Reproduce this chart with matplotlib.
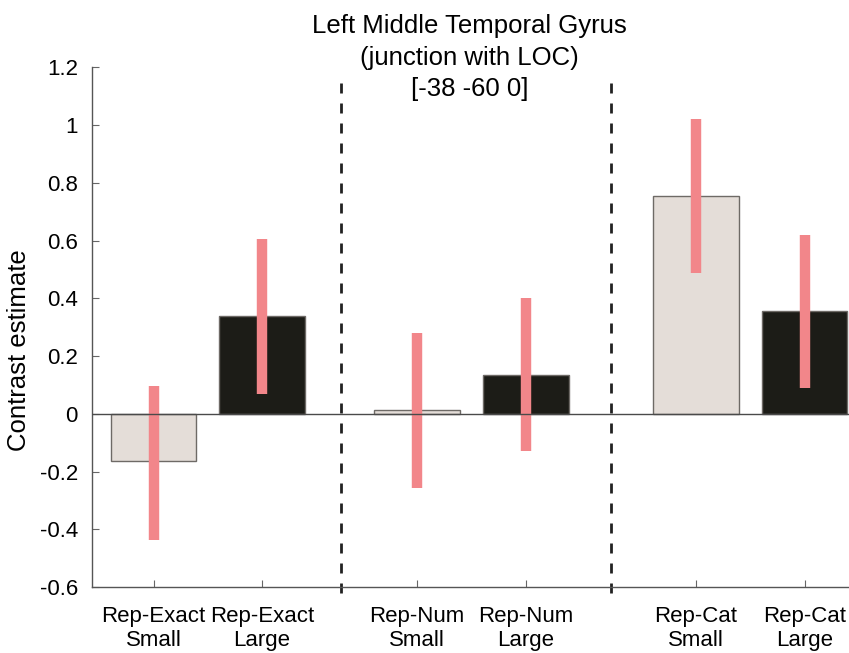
import matplotlib
matplotlib.use("Agg")
from matplotlib import pyplot as plt

# Valores de cada condicion
etiquetas = ["Rep-Exact\nSmall", "Rep-Exact\nLarge", "Rep-Num\nSmall",
             "Rep-Num\nLarge", "Rep-Cat\nSmall", "Rep-Cat\nLarge"]
posiciones = [1, 2, 3.43, 4.43, 6, 7]
contrastes = [-0.165, 0.34, 0.012, 0.135, 0.755, 0.355]
error_inf = [-0.437, 0.07, -0.257, -0.13, 0.486, 0.09]
error_sup = [0.097, 0.604, 0.28, 0.40, 1.02, 0.62]
separadores = [2.73, 5.22]
colores = ["#e4ddd8", "#1c1c17", "#e4ddd8", "#1c1c17", "#e4ddd8", "#1c1c17"]

plt.rcParams['font.family'] = ['Liberation Sans', 'DejaVu Sans']

fig = plt.figure(figsize=(8.49, 6.53), dpi=100)
ax = fig.add_axes([0.108, 0.101, 0.892, 0.796])

ax.bar(posiciones, contrastes, width=0.79, color=colores,
       edgecolor="#6e6a66", linewidth=1.0, zorder=2)
ax.vlines(posiciones, error_inf, error_sup, color="#f2868a",
          linewidth=7.5, zorder=3)
ax.axhline(0, color="#4a4a4a", linewidth=1.0, zorder=4)

# Lineas de separacion entre grupos
for s in separadores:
    ax.plot([s, s], [-0.62, 1.15], linestyle=(0, (3.6, 3.6)), color="#222222",
            linewidth=2.0, clip_on=False, zorder=1)

ax.set_xlim(0.43, 7.41)
ax.set_ylim(-0.6, 1.2)
ax.set_yticks([-0.6, -0.4, -0.2, 0, 0.2, 0.4, 0.6, 0.8, 1, 1.2])
ax.set_yticklabels(["-0.6", "-0.4", "-0.2", "0", "0.2", "0.4", "0.6", "0.8", "1", "1.2"])
ax.set_xticks(posiciones)
ax.set_xticklabels(etiquetas, fontsize=16, linespacing=1.15)
ax.tick_params(axis='y', direction='in', length=5, width=0.8, color="#666666",
               labelsize=16, pad=10)
ax.tick_params(axis='x', direction='in', length=5, width=0.8, color="#666666",
               pad=14)

for lado in ["top", "right"]:
    ax.spines[lado].set_visible(False)
for lado in ["left", "bottom"]:
    ax.spines[lado].set_color("#555555")
    ax.spines[lado].set_linewidth(1.0)

ax.set_ylabel("Contrast estimate", fontsize=18.5)
ax.yaxis.set_label_coords(-0.08, 0.456)
fig.text(0.553, 0.978, "Left Middle Temporal Gyrus\n(junction with LOC)\n[-38 -60 0]",
         ha="center", va="top", fontsize=18.5, linespacing=1.38)

plt.savefig("out.png", dpi=100)
